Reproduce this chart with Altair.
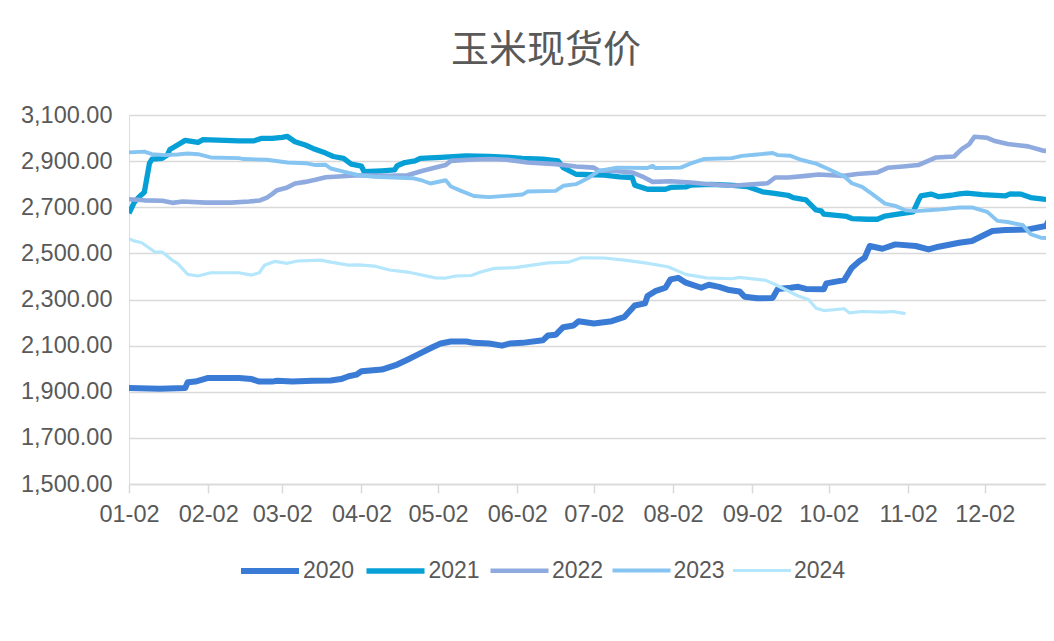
import altair as alt
import pandas as pd

title_text = "玉米现货价"
years = ["2020", "2021", "2022", "2023", "2024"]
colors = ["#3A7BD5", "#06A0D6", "#8FAADF", "#86C4F1", "#B4E6FC"]
widths = [6, 3.2, 3.8, 3.6, 3.6]
tick_labels = ["01-02", "02-02", "03-02", "04-02", "05-02", "06-02",
               "07-02", "08-02", "09-02", "10-02", "11-02", "12-02"]
y_ticks = [1500, 1700, 1900, 2100, 2300, 2500, 2700, 2900, 3100]

d2020 = ["01-02", "01-14", "01-24", "01-25", "01-28", "02-02", "02-14", "02-19", "02-22", "02-27",
         "02-29", "03-06", "03-14", "03-21", "03-25", "03-28", "03-31", "04-02", "04-10", "04-16",
         "04-20", "04-24", "04-30", "05-03", "05-07", "05-13", "05-16", "05-22", "05-27", "05-30",
         "06-04", "06-12", "06-14", "06-17", "06-20", "06-24", "06-26", "07-02", "07-09", "07-14",
         "07-18", "07-22", "07-23", "07-26", "07-30", "08-01", "08-04", "08-07", "08-13", "08-16",
         "08-20", "08-24", "08-28", "08-30", "09-04", "09-10", "09-12", "09-17", "09-20", "09-23",
         "09-30", "10-01", "10-08", "10-11", "10-14", "10-16", "10-18", "10-23", "10-28", "11-05",
         "11-10", "11-14", "11-22", "11-27", "12-01", "12-05", "12-10", "12-19", "12-26", "12-28",
         "12-29"]
v2020 = [1916, 1913, 1916, 1941, 1944, 1960, 1960, 1955, 1944, 1944,
         1948, 1944, 1948, 1949, 1955, 1967, 1974, 1989, 1996, 2018,
         2039, 2061, 2094, 2109, 2118, 2118, 2112, 2109, 2100, 2109,
         2112, 2123, 2144, 2147, 2180, 2187, 2206, 2196, 2206, 2225,
         2274, 2283, 2315, 2336, 2351, 2387, 2394, 2373, 2351, 2364,
         2355, 2341, 2335, 2312, 2305, 2307, 2346, 2351, 2355, 2346,
         2344, 2370, 2384, 2438, 2467, 2481, 2532, 2520, 2539, 2532,
         2517, 2529, 2546, 2554, 2575, 2597, 2601, 2604, 2619, 2662,
         2665]

d2021 = ["01-02", "01-04", "01-06", "01-08", "01-10", "01-11", "01-15", "01-17", "01-18", "01-21",
         "01-24", "01-29", "01-31", "02-14", "02-20", "02-23", "02-27", "03-02", "03-04", "03-07",
         "03-11", "03-14", "03-19", "03-22", "03-26", "03-29", "04-02", "04-03", "04-10", "04-15",
         "04-16", "04-19", "04-23", "04-25", "05-03", "05-13", "05-22", "05-30", "06-04", "06-12",
         "06-18", "06-20", "06-25", "07-06", "07-12", "07-17", "07-18", "07-23", "07-30", "08-01",
         "08-07", "08-09", "08-17", "08-24", "08-31", "09-06", "09-10", "09-16", "09-18", "09-23",
         "09-27", "09-29", "09-30", "10-09", "10-11", "10-17", "10-21", "10-24", "10-29", "11-04",
         "11-06", "11-07", "11-11", "11-14", "11-19", "11-22", "11-25", "12-01", "12-10", "12-12",
         "12-16", "12-20", "12-25", "12-29"]
v2021 = [2674, 2720, 2746, 2765, 2890, 2909, 2912, 2926, 2950, 2970,
         2990, 2981, 2993, 2988, 2988, 2999, 2999, 3003, 3007, 2984,
         2970, 2955, 2935, 2920, 2912, 2887, 2878, 2854, 2858, 2862,
         2880, 2894, 2901, 2912, 2916, 2923, 2920, 2916, 2912, 2909,
         2901, 2872, 2843, 2839, 2832, 2829, 2796, 2778, 2778, 2786,
         2788, 2796, 2799, 2796, 2790, 2767, 2761, 2752, 2742, 2732,
         2688, 2684, 2670, 2660, 2651, 2648, 2648, 2662, 2670, 2680,
         2728, 2749, 2757, 2746, 2752, 2758, 2761, 2755, 2749, 2758,
         2757, 2742, 2735, 2731]

d2022 = ["01-02", "01-08", "01-15", "01-19", "01-23", "02-01", "02-11", "02-18", "02-22", "02-25",
         "02-27", "02-29", "03-04", "03-07", "03-11", "03-15", "03-19", "03-24", "04-01", "04-13",
         "04-20", "04-26", "05-01", "05-05", "05-07", "05-14", "05-22", "05-29", "06-06", "06-17",
         "06-25", "07-02", "07-04", "07-09", "07-17", "07-21", "07-25", "08-01", "08-09", "08-17",
         "08-25", "09-02", "09-08", "09-11", "09-16", "09-23", "09-28", "10-08", "10-13", "10-21",
         "10-25", "10-31", "11-06", "11-13", "11-20", "11-23", "11-26", "11-28", "12-03", "12-06",
         "12-11", "12-19", "12-25", "12-29"]
v2022 = [2735, 2730, 2728, 2719, 2725, 2720, 2720, 2725, 2729, 2742,
         2757, 2774, 2786, 2803, 2810, 2819, 2830, 2833, 2839, 2836,
         2839, 2858, 2872, 2883, 2901, 2906, 2909, 2906, 2894, 2887,
         2877, 2872, 2858, 2858, 2851, 2833, 2810, 2813, 2807, 2799,
         2793, 2799, 2804, 2829, 2829, 2836, 2842, 2836, 2844, 2851,
         2871, 2877, 2883, 2916, 2920, 2952, 2974, 3006, 3001, 2987,
         2974, 2964, 2945, 2942]

d2023 = ["01-02", "01-08", "01-11", "01-16", "01-21", "01-25", "01-29", "02-03", "02-14", "02-16",
         "02-25", "03-04", "03-11", "03-15", "03-19", "03-21", "03-26", "04-01", "04-07", "04-22",
         "04-26", "04-29", "05-05", "05-07", "05-11", "05-16", "05-22", "05-27", "06-04", "06-06",
         "06-17", "06-20", "06-25", "06-30", "07-04", "07-11", "07-23", "07-25", "07-26", "08-05",
         "08-09", "08-14", "08-25", "08-29", "09-04", "09-10", "09-12", "09-17", "09-21", "09-27",
         "10-02", "10-08", "10-11", "10-15", "10-19", "10-24", "10-28", "11-01", "11-05", "11-10",
         "11-15", "11-22", "11-27", "12-03", "12-07", "12-11", "12-17", "12-20", "12-24", "12-29"]
v2023 = [2938, 2941, 2930, 2926, 2929, 2933, 2930, 2916, 2913, 2909,
         2906, 2894, 2891, 2883, 2884, 2868, 2854, 2839, 2832, 2826,
         2815, 2803, 2817, 2790, 2771, 2749, 2744, 2748, 2755, 2768,
         2771, 2793, 2800, 2828, 2858, 2872, 2870, 2880, 2870, 2872,
         2890, 2909, 2913, 2923, 2929, 2935, 2926, 2923, 2906, 2889,
         2865, 2833, 2804, 2788, 2757, 2716, 2706, 2687, 2683, 2687,
         2691, 2699, 2699, 2680, 2641, 2636, 2622, 2583, 2568, 2565]

d2024 = ["01-02", "01-04", "01-07", "01-12", "01-15", "01-19", "01-21", "01-25", "01-29", "02-03",
         "02-14", "02-19", "02-22", "02-24", "02-28", "03-04", "03-08", "03-17", "03-21", "03-28",
         "04-01", "04-07", "04-13", "04-20", "05-01", "05-05", "05-09", "05-15", "05-19", "05-24",
         "06-01", "06-10", "06-14", "06-22", "06-27", "07-06", "07-14", "07-22", "07-31", "08-07",
         "08-15", "08-25", "08-28", "09-07", "09-11", "09-20", "09-24", "09-27", "09-30", "10-08",
         "10-10", "10-15", "10-23", "10-27", "11-01"]
v2024 = [2564, 2554, 2546, 2507, 2506, 2470, 2457, 2409, 2402, 2416,
         2416, 2406, 2416, 2448, 2465, 2457, 2467, 2471, 2462, 2449,
         2450, 2445, 2428, 2419, 2394, 2393, 2402, 2404, 2420, 2435,
         2438, 2452, 2459, 2462, 2481, 2480, 2471, 2459, 2442, 2409,
         2394, 2390, 2396, 2384, 2365, 2315, 2300, 2262, 2252, 2260,
         2242, 2248, 2245, 2248, 2239]

series = {"2020": (d2020, v2020), "2021": (d2021, v2021), "2022": (d2022, v2022),
          "2023": (d2023, v2023), "2024": (d2024, v2024)}

rows = []
for yr, (ds, vs) in series.items():
    for d, v in zip(ds, vs):
        rows.append({"year": yr, "date": f"2020-{d}T00:00:00", "price": v})
df = pd.DataFrame(rows)

font = "Liberation Sans"
text_color = "#595959"
grid_color = "#D9D9D9"

tick_values = [alt.DateTime(year=2020, month=int(t[:2]), date=int(t[3:])) for t in tick_labels]


def make_legend():
    return alt.Legend(orient="none", legendX=109, legendY=424,
                      direction="horizontal", title=None,
                      symbolType="stroke", symbolSize=3364,
                      labelFont=font, labelFontSize=23,
                      labelColor=text_color, labelOffset=1,
                      columnPadding=0.5, padding=0)


chart = alt.Chart(df).mark_line(clip=True, strokeJoin="round", strokeCap="butt").encode(
    x=alt.X("date:T",
            scale=alt.Scale(domain=[alt.DateTime(year=2020, month=1, date=2),
                                    alt.DateTime(year=2020, month=12, date=26)]),
            axis=alt.Axis(values=tick_values, format="%m-%d", title=None, grid=False,
                          labelFont=font, labelFontSize=23.5, labelColor=text_color,
                          labelOverlap=False, labelFlush=False, labelPadding=9.5,
                          domainColor=grid_color, domainWidth=1.5,
                          tickColor=grid_color, tickWidth=1.5, tickSize=9)),
    y=alt.Y("price:Q",
            scale=alt.Scale(domain=[1500, 3100], nice=False, zero=False),
            axis=alt.Axis(values=y_ticks, format=",.2f", title=None, grid=True,
                          gridColor=grid_color, gridWidth=1.5, domain=False, ticks=False,
                          labelFont=font, labelFontSize=23.5, labelColor=text_color,
                          labelPadding=17)),
    color=alt.Color("year:N", scale=alt.Scale(domain=years, range=colors),
                    legend=make_legend()),
    strokeWidth=alt.StrokeWidth("year:N", scale=alt.Scale(domain=years, range=widths),
                                legend=make_legend()),
    order=alt.Order("date:T"),
).properties(
    width=917,
    height=369,
    autosize="none",
    padding={"left": 121, "top": 107, "right": 0, "bottom": 140},
    title=alt.TitleParams(text=title_text, anchor="start", frame="group", dx=322, dy=42,
                          fontSize=38, font="Noto Sans CJK SC", fontWeight="normal",
                          color=text_color, offset=45, baseline="alphabetic"),
).configure_view(stroke=None).configure(background="white")

chart.save("out.html", embed_options={"renderer": "svg", "actions": False})
